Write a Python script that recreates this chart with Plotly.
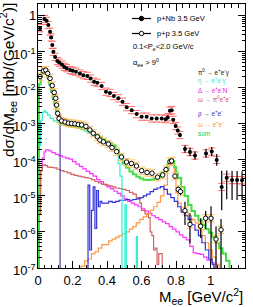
import numpy as np
import plotly.graph_objects as go

# ---------------- data ----------------
# p+Nb 3.5 GeV  (filled points)
nb_x = [0.012, 0.037, 0.05, 0.06, 0.07, 0.076, 0.083, 0.089, 0.099, 0.112, 0.123, 0.139,
        0.152, 0.166, 0.186, 0.201, 0.22, 0.243, 0.263, 0.286, 0.305, 0.325, 0.344, 0.369,
        0.394, 0.417, 0.44, 0.466, 0.49, 0.514, 0.543, 0.572, 0.601, 0.63, 0.659, 0.688,
        0.717, 0.74, 0.752, 0.765, 0.775, 0.784, 0.798, 0.81, 0.823, 0.852, 0.881, 0.91,
        0.974, 1.007, 1.036, 1.065, 1.094, 1.125, 1.154, 1.183]
nb_y = [0.45, 0.81, 0.72, 0.55, 0.36, 0.25, 0.155, 0.10, 0.072, 0.055, 0.050, 0.044,
        0.038, 0.035, 0.031, 0.0295, 0.028, 0.025, 0.0224, 0.0214, 0.018, 0.0148, 0.0138, 0.0112,
        0.0078, 0.0072, 0.0059, 0.0051, 0.0041, 0.0029, 0.0024, 0.00186, 0.00158, 0.00158, 0.00141, 0.00141,
        0.00141, 0.00135, 0.00151, 0.0023, 0.0024, 0.00129, 0.00087, 0.00065, 0.00049, 0.00020, 0.000166, 0.000132,
        0.000151, 0.00017, 0.00010, 1.78e-5, 3.2e-5, 2.75e-5, 2.75e-5, 2.7e-5]
# statistical error, in decades (up / down)
nb_err_up = [0.0] * 38 + [0.03, 0.03, 0.03, 0.04, 0.05, 0.05, 0.06, 0.10, 0.12, 0.12,
                          0.13, 0.13, 0.16, 0.45, 0.2, 0.25, 0.25, 0.25]
nb_err_dn = [0.0] * 38 + [0.03, 0.03, 0.03, 0.04, 0.05, 0.05, 0.06, 0.10, 0.12, 0.12,
                          0.13, 0.13, 0.16, 0.65, 0.6, 0.55, 0.55, 0.55]

# p+p 3.5 GeV (open points)
pp_x = [0.012, 0.031, 0.045, 0.056, 0.07, 0.083, 0.094, 0.103, 0.108, 0.114, 0.122, 0.137,
        0.157, 0.176, 0.195, 0.214, 0.234, 0.253, 0.278, 0.301, 0.32, 0.344, 0.359, 0.379,
        0.408, 0.429, 0.456, 0.484, 0.513, 0.542, 0.571, 0.601, 0.632, 0.661, 0.693, 0.723,
        0.742, 0.765, 0.775, 0.794, 0.813, 0.826, 0.852, 0.881, 0.943, 0.972, 1.003, 1.032, 1.061]
pp_log10 = [-1.69, -1.53, -1.51, -1.60, -1.74, -1.94, -2.13, -2.29, -2.48, -2.71, -2.85, -2.92,
            -2.95, -2.98, -2.99, -3.00, -3.02, -3.03, -3.07, -3.17, -3.26, -3.36, -3.45, -3.50,
            -3.56, -3.66, -3.77, -3.92, -4.06, -4.10, -4.17, -4.30, -4.35, -4.37, -4.48, -4.42,
            -4.27, -4.05, -4.03, -4.45, -4.82, -4.88, -5.41, -5.79, -5.84, -5.62, -5.62, -6.20, -5.94]
pp_err_up = [0.0] * 36 + [0.03, 0.03, 0.03, 0.05, 0.08, 0.10, 0.25, 0.31, 0.22, 0.20, 0.33, 0.35, 0.30]
pp_err_dn = [0.0] * 36 + [0.03, 0.03, 0.03, 0.05, 0.08, 0.10, 0.40, 0.52, 0.33, 0.30, 1.20, 2.0, 2.0]

SYS_DEX = 0.10  # systematic band half-width in decades
OFF = -9.0      # below the axis range

# simulation histograms (bin left edges, log10 of value)
pi0_x = [0.0, 0.005, 0.015, 0.025, 0.035, 0.045, 0.055, 0.065, 0.075, 0.085, 0.095, 0.105, 0.115, 0.128]
pi0_log10 = [OFF, -1.9, -1.6, -1.52, -1.52, -1.6, -1.75, -1.93, -2.12, -2.32, -2.5, -2.66, -2.75, OFF]

eta_x = [0.0, 0.005, 0.015, 0.025, 0.035, 0.045, 0.055, 0.07, 0.09, 0.11, 0.13, 0.15, 0.17, 0.19,
         0.21, 0.23, 0.25, 0.27, 0.29, 0.31, 0.33, 0.35, 0.37, 0.39, 0.41, 0.43, 0.45, 0.465,
         0.475, 0.487, 0.504, 0.512, 0.570, 0.576]
eta_log10 = [OFF, -3.6, -2.9, -2.68, -2.64, -2.68, -2.76, -2.85, -2.92, -2.97, -3.0, -3.03, -3.05, -3.07,
             -3.1, -3.12, -3.16, -3.2, -3.25, -3.3, -3.35, -3.41, -3.47, -3.52, -3.58, -3.62, -3.75, -4.1,
             -4.45, OFF, -5.25, OFF, -6.13, OFF]

delta_x = [0.0, 0.005, 0.015, 0.025, 0.035, 0.045, 0.055, 0.065, 0.08, 0.10, 0.12, 0.14, 0.16, 0.18,
           0.20, 0.22, 0.24, 0.26, 0.28, 0.30, 0.32, 0.34, 0.36, 0.38, 0.40, 0.42, 0.44, 0.46, 0.48,
           0.50, 0.52, 0.54, 0.56, 0.58, 0.60, 0.62, 0.64, 0.66, 0.68, 0.70, 0.72, 0.74, 0.76, 0.78,
           0.80, 0.82, 0.84, 0.86, 0.88, 0.90, 0.92, 0.94, 0.96, 0.98, 1.00, 1.02]
delta_log10 = [OFF, -5.0, -4.3, -3.95, -3.78, -3.72, -3.72, -3.75, -3.8, -3.85, -3.88, -3.92, -3.95, -3.98,
               -4.05, -4.12, -4.18, -4.25, -4.32, -4.38, -4.45, -4.55, -4.6, -4.68, -4.75, -4.8, -4.87, -4.93, -5.0,
               -5.08, -5.15, -5.2, -5.25, -5.3, -5.36, -5.42, -5.48, -5.55, -5.6, -5.66, -5.72, -5.77, -5.85, -5.92,
               -6.0, -6.08, -6.15, -6.22, -6.4, -6.58, -6.6, -6.62, -6.7, -6.78, -6.85, OFF]

omdal_x = [0.0, 0.008, 0.015, 0.025, 0.035, 0.045, 0.055, 0.07, 0.09, 0.11, 0.13, 0.15, 0.17, 0.19,
           0.21, 0.23, 0.25, 0.27, 0.29, 0.31, 0.33, 0.35, 0.37, 0.39, 0.41, 0.43, 0.45, 0.47, 0.49,
           0.51, 0.53, 0.55, 0.57, 0.59, 0.60, 0.62, 0.64, 0.65, 0.66, 0.67, 0.68, 0.69, 0.70, 0.71, 0.72]
omdal_log10 = [OFF, -5.5, -4.3, -4.15, -4.14, -4.16, -4.2, -4.21, -4.22, -4.26, -4.3, -4.33, -4.36, -4.4,
               -4.43, -4.45, -4.47, -4.49, -4.51, -4.55, -4.6, -4.64, -4.68, -4.7, -4.72, -4.75, -4.78, -4.8, -4.82,
               -4.85, -4.9, -4.95, -5.05, -5.2, -5.4, -5.5, -5.6, -6.0, -6.1, -6.5, -6.45, -6.9, -6.6, -6.6, OFF]

rho_x = [0.285, 0.29, 0.30, 0.31, 0.32, 0.33, 0.34, 0.35, 0.36, 0.37, 0.39, 0.41, 0.43, 0.45, 0.47,
         0.49, 0.51, 0.53, 0.55, 0.57, 0.59, 0.61, 0.63, 0.65, 0.67, 0.69, 0.71, 0.73, 0.75, 0.77,
         0.79, 0.81, 0.83, 0.85, 0.87, 0.89, 0.91, 0.93, 0.95, 0.97, 0.99, 1.01, 1.02]
rho_log10 = [OFF, -4.7, -6.5, -5.4, -4.75, -5.9, -4.85, -5.3, -5.15, -5.2, -5.2, -5.15, -5.18, -5.15, -5.12,
             -5.12, -5.1, -5.12, -5.1, -5.08, -5.05, -5.0, -4.95, -4.88, -4.82, -4.78, -4.74, -4.82, -4.95, -5.05,
             -5.15, -5.3, -5.45, -5.55, -5.65, -5.8, -5.95, -6.1, -6.3, -6.5, -6.75, -6.9, OFF]

omee_x = [0.245, 0.25, 0.27, 0.29, 0.31, 0.33, 0.35, 0.37, 0.39, 0.41, 0.43, 0.45, 0.47, 0.49, 0.51,
          0.53, 0.55, 0.57, 0.59, 0.61, 0.63, 0.65, 0.67, 0.69, 0.71, 0.73, 0.75, 0.76, 0.77, 0.78,
          0.79, 0.80, 0.81, 0.83, 0.85, 0.87, 0.89, 0.91, 0.93, 0.95, 0.97, 0.99, 1.01, 1.03, 1.05]
omee_log10 = [OFF, -6.95, -6.8, -6.75, -6.6, -6.55, -6.45, -6.35, -6.35, -6.25, -6.2, -6.15, -6.1, -6.05, -6.0,
              -5.92, -5.85, -5.75, -5.65, -5.58, -5.5, -5.4, -5.3, -5.18, -5.0, -4.7, -4.3, -4.1, -4.0, -4.1,
              -4.5, -4.9, -5.2, -5.4, -5.45, -5.55, -5.65, -5.75, -5.95, -6.1, -6.3, -6.5, -6.7, -6.9, OFF]

sum_x = [0.0, 0.005, 0.015, 0.025, 0.035, 0.045, 0.055, 0.065, 0.075, 0.085, 0.095, 0.105, 0.115, 0.125,
         0.135, 0.15, 0.17, 0.19, 0.21, 0.23, 0.25, 0.27, 0.29, 0.31, 0.33, 0.35, 0.37, 0.39, 0.41,
         0.43, 0.45, 0.47, 0.49, 0.51, 0.53, 0.55, 0.57, 0.59, 0.61, 0.63, 0.65, 0.67, 0.69, 0.71,
         0.73, 0.75, 0.76, 0.77, 0.78, 0.79, 0.80, 0.81, 0.83, 0.85, 0.87, 0.89, 0.91, 0.93, 0.95,
         0.97, 0.99, 1.01, 1.03, 1.05, 1.07, 1.09, 1.11]
sum_log10 = [OFF, -1.9, -1.6, -1.5, -1.5, -1.57, -1.7, -1.88, -2.08, -2.28, -2.45, -2.62, -2.8, -2.95,
             -3.02, -3.04, -3.06, -3.07, -3.09, -3.1, -3.12, -3.15, -3.19, -3.24, -3.3, -3.36, -3.42, -3.48, -3.54,
             -3.6, -3.73, -3.88, -4.1, -4.22, -4.32, -4.4, -4.47, -4.52, -4.55, -4.56, -4.55, -4.52, -4.48, -4.38,
             -4.28, -4.12, -4.02, -3.97, -4.03, -4.2, -4.35, -4.5, -4.75, -5.0, -5.25, -5.42, -5.55, -5.68, -5.8,
             -5.92, -6.02, -6.15, -6.3, -6.45, -6.6, -6.8, OFF]

# axis tick labels
x_ticks = [0, 0.2, 0.4, 0.6, 0.8, 1.0, 1.2]
x_ticklabels = ["0", "0.2", "0.4", "0.6", "0.8", "1", "1.2"]
y_ticks = [1, 1e-1, 1e-2, 1e-3, 1e-4, 1e-5, 1e-6, 1e-7]
y_ticklabels = ["1", "10<sup>-1</sup>", "10<sup>-2</sup>", "10<sup>-3</sup>", "10<sup>-4</sup>",
                "10<sup>-5</sup>", "10<sup>-6</sup>", "10<sup>-7</sup>"]

# legend texts
legend_main = ["p+Nb 3.5 GeV", "p+p 3.5 GeV"]
cut_texts = ["0.1&lt;P<sub>e</sub>&lt;2.0 GeV/c", "α<sub>ee</sub> &gt; 9<sup>0</sup>"]
channel_texts = ["π<sup>0</sup> → e<sup>+</sup>e<sup>-</sup>γ",
                 "η → e<sup>+</sup>e<sup>-</sup>γ",
                 "Δ → e<sup>+</sup>e<sup>-</sup>N",
                 "ω → π<sup>0</sup>e<sup>+</sup>e<sup>-</sup>",
                 "ρ → e<sup>+</sup>e<sup>-</sup>",
                 "ω → e<sup>+</sup>e<sup>-</sup>",
                 "sum"]
channel_colors = ["#111111", "#33e6cc", "#ee22ee", "#cc5555", "#3333cc", "#ff9933", "#22cc22"]

# ---------------- figure ----------------
FONT = "Liberation Sans, Arial, sans-serif"
fig = go.Figure()

hists = [
    (delta_x, delta_log10, "#ff33ff", 1.2),
    (omdal_x, omdal_log10, "#d06464", 1.2),
    (omee_x, omee_log10, "#ff9944", 1.2),
    (rho_x, rho_log10, "#3333dd", 1.2),
    (eta_x, eta_log10, "#33eecc", 1.2),
    (pi0_x, pi0_log10, "#4444aa", 1.2),
    (sum_x, sum_log10, "#44dd44", 2.0),
]
for hx, hl, col, w in hists:
    fig.add_trace(go.Scatter(x=hx, y=10.0 ** np.array(hl), mode="lines",
                             line=dict(color=col, width=w, shape="hv"),
                             hoverinfo="skip", showlegend=False))

pp_y = 10.0 ** np.array(pp_log10)
nb_y_arr = np.array(nb_y)

# p+p systematics (dashes above / below)
for s in (+1, -1):
    fig.add_trace(go.Scatter(x=pp_x, y=pp_y * 10 ** (s * SYS_DEX), mode="markers",
                             marker=dict(symbol="line-ew", size=5,
                                         line=dict(color="#ffc060", width=1)),
                             hoverinfo="skip", showlegend=False))
# p+Nb systematics
for s in (+1, -1):
    fig.add_trace(go.Scatter(x=nb_x, y=nb_y_arr * 10 ** (s * SYS_DEX), mode="markers",
                             marker=dict(symbol="line-ew", size=5,
                                         line=dict(color="#ff6a6a", width=1)),
                             hoverinfo="skip", showlegend=False))

# p+p data
fig.add_trace(go.Scatter(
    x=pp_x, y=pp_y, mode="markers",
    marker=dict(symbol="circle", size=4.5, color="white", line=dict(color="black", width=1)),
    error_y=dict(type="data", symmetric=False,
                 array=pp_y * (10 ** np.array(pp_err_up) - 1),
                 arrayminus=pp_y * (1 - 10 ** (-np.array(pp_err_dn))),
                 color="black", thickness=1.2, width=0),
    showlegend=False))

# p+Nb data
fig.add_trace(go.Scatter(
    x=nb_x, y=nb_y_arr, mode="markers",
    marker=dict(symbol="circle", size=4, color="black"),
    error_y=dict(type="data", symmetric=False,
                 array=nb_y_arr * (10 ** np.array(nb_err_up) - 1),
                 arrayminus=nb_y_arr * (1 - 10 ** (-np.array(nb_err_dn))),
                 color="black", thickness=1.2, width=0),
    showlegend=False))

# ---------------- layout ----------------
W, H = 253, 307
ML, MR, MT, MB = 38, 8, 4, 39
PW, PH = W - ML - MR, H - MT - MB


def px2x(px):
    return (px - ML) / PW


def px2y(py):
    return (H - MB - py) / PH


shapes = []
annotations = []

# y tick labels, placed on the y axis scale
for tv, tl in zip(y_ticks, y_ticklabels):
    annotations.append(dict(xref="paper", yref="y", x=px2x(37.5), y=np.log10(tv),
                            xanchor="right", yanchor="middle", showarrow=False, text=tl,
                            yshift=-2 if tv != 1 else 0,
                            font=dict(family=FONT, size=13, color="black")))

# legend lines with markers
for row_y, filled, text in [(18.5, True, legend_main[0]), (33.5, False, legend_main[1])]:
    shapes.append(dict(type="line", xref="paper", yref="paper",
                       x0=px2x(132), x1=px2x(151), y0=px2y(row_y), y1=px2y(row_y),
                       line=dict(color="black", width=1.2)))
    r = 2.2
    shapes.append(dict(type="circle", xref="paper", yref="paper",
                       x0=px2x(141.5 - r), x1=px2x(141.5 + r),
                       y0=px2y(row_y + r), y1=px2y(row_y - r),
                       fillcolor="black" if filled else "white",
                       line=dict(color="black", width=1)))
    annotations.append(dict(xref="paper", yref="paper", x=px2x(155), y=px2y(row_y),
                            xanchor="left", yanchor="middle", showarrow=False, text=text,
                            font=dict(family=FONT, size=7.5, color="black")))

for row_y, text in zip([47, 62], cut_texts):
    annotations.append(dict(xref="paper", yref="paper", x=px2x(131), y=px2y(row_y),
                            xanchor="left", yanchor="middle", showarrow=False, text=text,
                            font=dict(family=FONT, size=7.5, color="black")))

for row_y, text, col in zip([72, 81, 90, 99, 113.5, 123.5, 133], channel_texts, channel_colors):
    annotations.append(dict(xref="paper", yref="paper", x=px2x(196), y=px2y(row_y),
                            xanchor="left", yanchor="middle", showarrow=False, text=text,
                            font=dict(family=FONT, size=6.3, color=col)))

# axis titles
annotations.append(dict(xref="paper", yref="paper", x=px2x(8), y=px2y(1),
                        xanchor="center", yanchor="top", textangle=-90, showarrow=False,
                        text="dσ/dM<sub>ee</sub> [mb/(GeV/c<sup>2</sup>)]",
                        font=dict(family=FONT, size=15.5, color="black")))
annotations.append(dict(xref="paper", yref="paper", x=px2x(245), y=px2y(296),
                        xanchor="right", yanchor="middle", showarrow=False,
                        text="M<sub>ee</sub> [GeV/c<sup>2</sup>]",
                        font=dict(family=FONT, size=15, color="black")))

fig.update_layout(
    width=W, height=H,
    margin=dict(l=ML, r=MR, t=MT, b=MB, pad=0),
    paper_bgcolor="white", plot_bgcolor="white",
    showlegend=False,
    shapes=shapes, annotations=annotations,
    xaxis=dict(range=[0, 1.2], tickmode="array", tickvals=x_ticks, ticktext=x_ticklabels,
               ticks="inside", ticklen=7, tickcolor="black", tickwidth=1,
               minor=dict(ticks="inside", ticklen=3.5, dtick=0.04, tickcolor="black", showgrid=False),
               showline=True, linecolor="black", linewidth=1, mirror="ticks",
               showgrid=False, zeroline=False,
               tickfont=dict(family=FONT, size=13, color="black")),
    yaxis=dict(type="log", range=[-7, 0.325], tickmode="array", tickvals=y_ticks,
               showticklabels=False,
               ticks="inside", ticklen=7, tickcolor="black", tickwidth=1,
               minor=dict(ticks="inside", ticklen=3.5, dtick="D1", tickcolor="black", showgrid=False),
               showline=True, linecolor="black", linewidth=1, mirror="ticks",
               showgrid=False, zeroline=False),
)

fig.write_html("out.html")
